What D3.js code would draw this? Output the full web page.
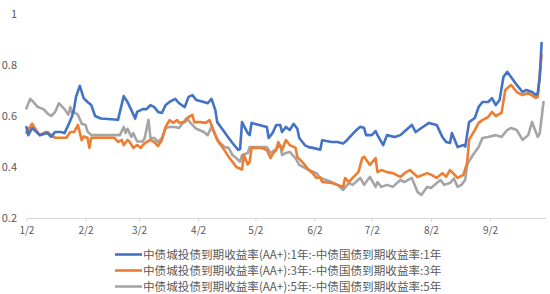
<!DOCTYPE html>
<html><head><meta charset="utf-8">
<script src="https://cdn.jsdelivr.net/npm/d3@7"></script>
<style>body{margin:0;background:#fff}svg{display:block}</style></head>
<body><svg id="c" width="550" height="294"></svg>
<script>
const YEAR = 2023;
const xTickDates = ["01-02","02-02","03-02","04-02","05-02","06-02","07-02","08-02","09-02"];
const xTickLabels = ["1/2","2/2","3/2","4/2","5/2","6/2","7/2","8/2","9/2"];
const yTicks = [0.2, 0.4, 0.6, 0.8, 1];
const yTickLabels = ["0.2","0.4","0.6","0.8","1"];
const seriesNames = [
  "中债城投债到期收益率(AA+):1年:-中债国债到期收益率:1年",
  "中债城投债到期收益率(AA+):3年:-中债国债到期收益率:3年",
  "中债城投债到期收益率(AA+):5年:-中债国债到期收益率:5年"
];
const spread1Y = [
["01-02",0.557],["01-03",0.525],["01-05",0.553],["01-09",0.525],["01-13",0.533],["01-15",0.518],["01-17",0.537],
["01-20",0.537],["01-22",0.533],["01-24",0.565],["01-26",0.60],["01-27",0.63],["01-28",0.675],["01-30",0.718],
["02-01",0.67],["02-03",0.655],["02-05",0.643],["02-07",0.60],["02-10",0.59],["02-19",0.585],["02-22",0.678],
["02-24",0.655],["02-26",0.623],["02-28",0.59],["03-01",0.616],["03-04",0.627],["03-06",0.627],["03-08",0.643],
["03-10",0.635],["03-12",0.616],["03-14",0.612],["03-16",0.643],["03-18",0.655],["03-21",0.667],["03-23",0.65],
["03-26",0.635],["03-28",0.675],["03-30",0.682],["04-01",0.663],["04-05",0.655],["04-07",0.65],["04-09",0.667],
["04-11",0.624],["04-12",0.576],["04-15",0.545],["04-18",0.514],["04-20",0.494],["04-23",0.467],["04-24",0.47],
["04-25",0.576],["04-28",0.533],["04-29",0.525],["04-30",0.573],["05-04",0.565],["05-08",0.557],["05-09",0.514],
["05-11",0.533],["05-13",0.565],["05-15",0.565],["05-16",0.537],["05-18",0.557],["05-20",0.545],["05-22",0.569],
["05-24",0.55],["05-25",0.514],["05-28",0.485],["05-30",0.478],["06-03",0.472],["06-05",0.468],["06-06",0.505],
["06-11",0.498],["06-14",0.498],["06-17",0.492],["06-19",0.505],["06-22",0.53],["06-24",0.545],["06-26",0.558],
["06-28",0.553],["06-29",0.525],["07-02",0.525],["07-04",0.541],["07-05",0.525],["07-08",0.486],["07-10",0.525],
["07-14",0.518],["07-17",0.525],["07-20",0.545],["07-23",0.565],["07-25",0.537],["07-28",0.553],["08-01",0.573],
["08-05",0.565],["08-08",0.518],["08-10",0.498],["08-12",0.494],["08-13",0.533],["08-16",0.478],["08-19",0.486],
["08-20",0.48],["08-22",0.576],["08-25",0.592],["08-27",0.635],["08-29",0.655],["09-01",0.655],["09-03",0.67],
["09-05",0.643],["09-07",0.663],["09-09",0.753],["09-11",0.773],["09-13",0.753],["09-16",0.722],["09-19",0.694],
["09-21",0.702],["09-24",0.694],["09-26",0.682],["09-27",0.69],["09-28",0.75],["09-29",0.886]
];
const spread3Y = [
["01-02",0.535],["01-05",0.57],["01-06",0.557],["01-09",0.525],["01-12",0.537],["01-13",0.537],["01-15",0.525],
["01-17",0.515],["01-21",0.515],["01-23",0.515],["01-25",0.537],["01-27",0.537],["01-29",0.565],["01-31",0.505],
["02-01",0.52],["02-03",0.515],["02-04",0.475],["02-05",0.515],["02-17",0.515],["02-19",0.498],["02-21",0.506],
["02-22",0.486],["02-24",0.506],["02-25",0.50],["02-27",0.475],["03-01",0.486],["03-03",0.475],["03-04",0.486],
["03-06",0.498],["03-08",0.506],["03-10",0.498],["03-12",0.482],["03-14",0.506],["03-16",0.557],["03-18",0.584],
["03-20",0.573],["03-22",0.584],["03-23",0.573],["03-26",0.576],["03-28",0.596],["03-30",0.604],["03-31",0.576],
["04-03",0.576],["04-06",0.573],["04-08",0.584],["04-10",0.545],["04-12",0.506],["04-15",0.475],["04-18",0.44],
["04-20",0.42],["04-22",0.40],["04-25",0.39],["04-26",0.447],["04-28",0.41],["04-29",0.42],["04-30",0.475],
["05-05",0.475],["05-08",0.467],["05-10",0.435],["05-11",0.45],["05-13",0.467],["05-14",0.498],["05-16",0.467],
["05-18",0.506],["05-20",0.486],["05-23",0.476],["05-24",0.44],["05-27",0.416],["05-30",0.388],["06-01",0.376],
["06-03",0.357],["06-05",0.36],["06-06",0.341],["06-11",0.337],["06-14",0.33],["06-17",0.322],["06-18",0.357],
["06-20",0.341],["06-22",0.357],["06-25",0.38],["06-27",0.435],["06-28",0.44],["07-01",0.408],["07-04",0.435],
["07-05",0.38],["07-07",0.388],["07-10",0.38],["07-13",0.376],["07-17",0.361],["07-20",0.38],["07-22",0.388],
["07-26",0.361],["07-31",0.376],["08-02",0.37],["08-05",0.357],["08-08",0.376],["08-10",0.362],["08-12",0.388],
["08-16",0.357],["08-19",0.369],["08-21",0.416],["08-22",0.506],["08-25",0.545],["08-27",0.573],["08-29",0.584],
["09-01",0.596],["09-03",0.616],["09-05",0.60],["09-08",0.612],["09-10",0.702],["09-13",0.722],["09-16",0.694],
["09-19",0.682],["09-22",0.69],["09-26",0.671],["09-27",0.675],["09-29",0.84]
];
const spread5Y = [
["01-02",0.63],["01-04",0.667],["01-05",0.66],["01-08",0.635],["01-11",0.627],["01-13",0.61],["01-15",0.60],
["01-17",0.615],["01-19",0.65],["01-21",0.635],["01-22",0.627],["01-24",0.605],["01-25",0.635],["01-26",0.61],
["01-27",0.615],["01-29",0.605],["01-31",0.57],["02-02",0.565],["02-03",0.54],["02-05",0.525],["02-20",0.525],
["02-22",0.557],["02-23",0.533],["02-24",0.55],["02-26",0.518],["02-27",0.533],["03-01",0.50],["03-04",0.50],
["03-05",0.514],["03-07",0.585],["03-08",0.514],["03-10",0.514],["03-12",0.498],["03-14",0.514],["03-16",0.553],
["03-18",0.557],["03-21",0.557],["03-23",0.553],["03-27",0.592],["03-29",0.573],["03-30",0.565],["04-01",0.55],
["04-05",0.537],["04-07",0.525],["04-09",0.557],["04-11",0.525],["04-13",0.498],["04-16",0.478],["04-18",0.475],
["04-20",0.447],["04-22",0.435],["04-24",0.42],["04-25",0.447],["04-28",0.455],["04-29",0.478],["05-08",0.478],
["05-10",0.455],["05-12",0.465],["05-15",0.486],["05-16",0.447],["05-18",0.455],["05-20",0.459],["05-23",0.435],
["05-25",0.408],["05-30",0.388],["06-03",0.376],["06-05",0.357],["06-11",0.341],["06-14",0.33],["06-17",0.31],
["06-20",0.337],["06-22",0.33],["06-26",0.357],["06-28",0.33],["07-01",0.361],["07-04",0.322],["07-05",0.341],
["07-07",0.322],["07-10",0.33],["07-13",0.322],["07-17",0.349],["07-19",0.341],["07-23",0.357],["07-26",0.302],
["07-28",0.29],["07-31",0.322],["08-02",0.318],["08-07",0.349],["08-09",0.33],["08-12",0.337],["08-14",0.355],
["08-16",0.322],["08-18",0.33],["08-20",0.35],["08-21",0.41],["08-24",0.447],["08-27",0.478],["08-29",0.514],
["09-01",0.518],["09-05",0.525],["09-08",0.518],["09-11",0.545],["09-13",0.553],["09-16",0.545],["09-19",0.506],
["09-22",0.525],["09-24",0.576],["09-27",0.518],["09-28",0.53],["09-30",0.655]
];
const colors = ["#4472C4", "#ED7D31", "#A5A5A5"];

const parse = s => d3.timeParse("%Y-%m-%d")(YEAR + "-" + s);
const allSeries = [spread1Y, spread3Y, spread5Y].map(s => s.map(([d, v]) => ({date: parse(d), value: v})));

const svg = d3.select("#c");
const x = d3.scaleTime().domain([parse("01-02"), parse("10-01")]).range([26.4, 545.4]);
const y = d3.scaleLinear().domain([0.2, 1]).range([218, 14]);
const font = "'Noto Sans CJK SC','Noto Sans',sans-serif";
const textColor = "#595959";

// x axis
const xAxis = d3.axisBottom(x)
  .tickValues(xTickDates.map(parse))
  .tickFormat((d, i) => xTickLabels[i])
  .tickSizeOuter(0).tickSizeInner(4).tickPadding(5);
const gx = svg.append("g").attr("transform", "translate(0,218)").call(xAxis);
gx.select(".domain").attr("stroke", "#D9D9D9").attr("stroke-width", 1);
gx.selectAll(".tick line").attr("stroke", "#D9D9D9");
gx.selectAll("text").attr("fill", textColor).style("font-family", font).style("font-size", "10px");

// y axis labels
const yAxis = d3.axisLeft(y).tickValues(yTicks).tickFormat((d, i) => yTickLabels[i]).tickSize(0).tickPadding(0);
const gy = svg.append("g").attr("transform", "translate(17,0)").call(yAxis);
gy.select(".domain").remove();
gy.selectAll("text").attr("fill", textColor).style("font-family", font).style("font-size", "11px");

// lines
const line = d3.line().x(d => x(d.date)).y(d => y(d.value));
[2, 1, 0].forEach(idx => {
  svg.append("path").datum(allSeries[idx]).attr("d", line).attr("fill", "none")
    .attr("stroke", colors[idx]).attr("stroke-width", 2.6).attr("stroke-linejoin", "round").attr("stroke-linecap", "round");
});

// legend
const lg = svg.append("g");
seriesNames.forEach((n, i) => {
  const yy = 254.5 + i * 16;
  lg.append("line").attr("x1", 115).attr("x2", 142).attr("y1", yy).attr("y2", yy)
    .attr("stroke", colors[i]).attr("stroke-width", 2.6);
  lg.append("text").attr("x", 143).attr("y", yy).attr("dy", "0.35em").text(n)
    .attr("fill", textColor).style("font-family", font).style("font-size", "11.6px");
});
</script></body></html>
